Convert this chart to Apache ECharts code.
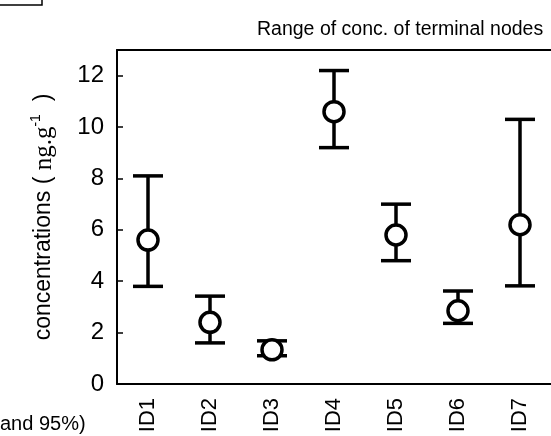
<!DOCTYPE html>
<html>
<head>
<meta charset="utf-8">
<script src="https://cdn.jsdelivr.net/npm/echarts@6/dist/echarts.min.js"></script>
<style>html,body{margin:0;padding:0;background:#fff;}#c{width:551px;height:436px;}</style>
</head>
<body>
<div id="c"></div>
<script>
var categories = ['ID1', 'ID2', 'ID3', 'ID4', 'ID5', 'ID6', 'ID7'];
var centerValues = [5.6, 2.4, 1.33, 10.6, 5.8, 2.85, 6.2];
var lowerValues = [3.8, 1.6, 1.1, 9.2, 4.8, 2.36, 3.82];
var upperValues = [8.1, 3.42, 1.68, 12.2, 7.0, 3.62, 10.3];
var yTicks = [0, 2, 4, 6, 8, 10, 12];

var FONT = '"Liberation Sans", Arial, sans-serif';
var chart = echarts.init(document.getElementById('c'));
var errData = categories.map(function (c, i) { return [i, lowerValues[i], upperValues[i]]; });
var ptData = categories.map(function (c, i) { return [i, centerValues[i]]; });

chart.setOption({
  animation: false,
  backgroundColor: '#fff',
  title: {
    text: 'Range of conc. of terminal nodes',
    left: 252, top: 15,
    textStyle: { fontFamily: FONT, fontSize: 19.5, fontWeight: 'normal', color: '#000' }
  },
  graphic: [
    { type: 'rect', shape: { x: -10, y: -10, width: 52, height: 15 }, style: { fill: 'none', stroke: '#000', lineWidth: 1.5 } },
    { type: 'text', left: 0, top: 414, style: { text: 'and 95%)', font: '20px ' + FONT, fill: '#000' } }
  ],
  grid: { left: 117, right: -12, top: 50, bottom: 52, containLabel: false },
  xAxis: [{
    type: 'category', data: categories, boundaryGap: true,
    axisLine: { lineStyle: { color: '#000', width: 2 } },
    axisTick: { alignWithLabel: true, inside: true, length: 6, lineStyle: { color: '#000', width: 1.5 } },
    axisLabel: { rotate: 90, margin: 14, fontFamily: FONT, fontSize: 22, color: '#000' },
    splitLine: { show: false }
  }, {
    type: 'category', data: categories, position: 'top',
    axisLine: { lineStyle: { color: '#000', width: 2 } },
    axisTick: { show: false }, axisLabel: { show: false }
  }],
  yAxis: {
    type: 'value', min: yTicks[0], max: 13, interval: 2,
    axisLine: { show: true, lineStyle: { color: '#000', width: 2 } },
    axisTick: { show: true, inside: true, length: 6, lineStyle: { color: '#000', width: 1.5 } },
    axisLabel: {
      margin: 13, fontFamily: FONT, fontSize: 24, color: '#000',
      formatter: function (v) { return yTicks.indexOf(v) >= 0 ? String(v) : ''; }
    },
    splitLine: { show: false },
    name: '{a|concentrations ( }{b|ng.g}{c|-1}{a|  )}',
    nameLocation: 'middle', nameRotate: 90, nameGap: 58,
    nameTextStyle: {
      rich: {
        a: { fontFamily: FONT, fontSize: 23, color: '#000' },
        b: { fontFamily: '"Liberation Serif", "DejaVu Serif", serif', fontSize: 25, color: '#000' },
        c: { fontFamily: FONT, fontSize: 14, color: '#000', verticalAlign: 'top', padding: [0, 0, 16, 0] }
      }
    }
  },
  series: [{
    type: 'custom',
    data: errData,
    renderItem: function (params, api) {
      var x = api.value(0);
      var lo = api.coord([x, api.value(1)]);
      var hi = api.coord([x, api.value(2)]);
      var hw = 15;
      var st = { stroke: '#000', lineWidth: 3.5, fill: 'none' };
      return {
        type: 'group',
        children: [
          { type: 'line', shape: { x1: lo[0], y1: lo[1], x2: hi[0], y2: hi[1] }, style: st },
          { type: 'line', shape: { x1: lo[0] - hw, y1: lo[1], x2: lo[0] + hw, y2: lo[1] }, style: st },
          { type: 'line', shape: { x1: hi[0] - hw, y1: hi[1], x2: hi[0] + hw, y2: hi[1] }, style: st }
        ]
      };
    },
    z: 2
  }, {
    type: 'scatter',
    data: ptData,
    symbol: 'circle', symbolSize: 20,
    itemStyle: { color: '#fff', borderColor: '#000', borderWidth: 3.5, opacity: 1 },
    z: 3
  }]
});
</script>
</body>
</html>
